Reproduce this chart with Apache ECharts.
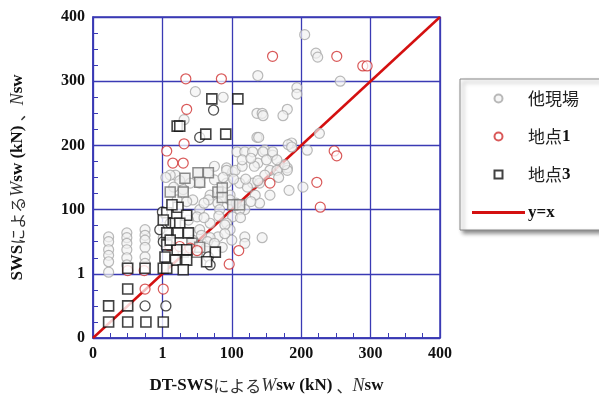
<!DOCTYPE html>
<html>
<head>
<meta charset="utf-8">
<script src="https://cdn.jsdelivr.net/npm/echarts@6/dist/echarts.min.js"></script>
<style>
  html, body { margin: 0; padding: 0; background: #fff; }
  #chart { width: 599px; height: 403px; }
</style>
</head>
<body>
<div id="chart"></div>
<script>
// tick labels as printed on the figure (equally spaced)
const tickLabels = ['0', '1', '100', '200', '300', '400']

// 他現場 (gray circles)
const otherSites = [
  [18,126],[18,120],[18,110],[18,103],[18,95],[18,82],
  [39,131],[39,125],[39,118],[39,110],[39,100],[39,91],
  [60,135],[60,128],[60,122],[60,113],[60,101],[60,93],
  [81,138],[81,125],
  [244,378],[257,355],[259,350],[118,307],[150,300],[105,272],[190,327],
  [189,280],[189,250],[235,312],[235,304],[195,280],[196,277],[224,285],
  [219,277],[191,250],[229,243],[198,234],[207,228],[190,218],[216,213],
  [224,212],[247,234],[226,184],[242,188],[285,320],[261,255],[175,126],
  [175,118],[195,125],[166,232],[95,203],[154,212],[161,207],
  [175,232],[184,232],[196,232],[207,232],[225,241],[229,238],
  [154,209],[164,209],[204,209],[212,209],[224,209],[198,203],
  [112,193],[123,193],[154,193],[169,193],[184,193],[192,193],[178,188],
  [158,178],[135,178],[204,178],[97,172],[115,172],[133,172],[158,172],
  [144,168],[192,168],[123,160],[146,160],[175,160],[120,151],[161,151],
  [135,143],[154,143],[123,135],[158,135],[144,126],[160,122],[115,122],
  [149,113],[135,125],[152,141],[169,160],[187,178],[221,216],
  [89,203],[100,196],
  [140,214],[172,214],[186,214],[172,222],[182,224],[200,222],[212,222],
  [140,197],[150,200],[162,198],[176,198],[190,196],[214,200],
  [108,170],[128,168],[165,168],[182,170],
  [110,147],[128,150],[145,152],[170,150],
  [125,128],[132,120],[152,130],[130,112],[140,118],
  [84,200],[93,188],[104,185]
]

// 地点1 (red circles)
const site1 = [
  [107,323],[148,323],[108,285],[105,242],[85,233],[92,218],[104,218],
  [207,351],[281,351],[311,339],[316,339],[278,233],[281,227],[204,193],
  [258,194],[262,163],[168,109],[157,92],[40,84],[59,84],[60,61],[81,61],
  [88,115],[100,114],[112,112],[120,109]
]

// 地点3 (black squares)
const site3 = [
  [137,298],[167,298],[97,264],[100,264],[130,254],[153,254],
  [18,20],[40,20],[61,20],[81,20],[18,40],[40,40],[40,61],[40,87],[60,87],[81,87],
  [98,163],[85,156],[108,153],[95,143],[100,143],[85,131],[98,131],[110,131],
  [85,116],[97,110],[108,110],[83,101],[95,97],[108,97],[85,87],[104,85],
  [141,107],[131,95],[91,166],[81,147],[89,122]
]

// dark circles and gray squares that are not in the legend
const darkCircles = [
  [139,284],[123,250],[60,40],[84,40],[80,157],[89,143],[81,120],[133,101],[135,91],[77,135]
]
const graySquares = [
  [106,199],[121,206],[133,206],[123,194],[89,182],[104,182],[144,182],
  [161,166],[169,166],[149,187],[149,175],[114,118],[104,107],[120,107],[123,113]
]

// y = x reference line
const diagLine = [[0, 0], [400, 400]]

const chart = echarts.init(document.getElementById('chart'))

const blue = '#3a3ab4'
const labelFont = { color: '#111', fontFamily: 'Liberation Serif', fontWeight: 'bold', fontSize: 16 }
const nameRich = {
  b: { fontFamily: 'Liberation Serif', fontWeight: 'bold', fontSize: 17, color: '#111' },
  j: { fontFamily: 'Noto Sans CJK JP', fontSize: 16, color: '#333' },
  i: { fontFamily: 'Liberation Serif', fontStyle: 'italic', fontSize: 18, color: '#333' }
}
const axisCommon = {
  type: 'value',
  min: 0,
  max: 400,
  interval: 80,
  nameLocation: 'middle',
  axisLine: { lineStyle: { color: blue, width: 1.5 } },
  axisTick: { show: true, inside: true, length: 5, lineStyle: { color: blue } },
  minorTick: { show: true, splitNumber: 4, length: 5, lineStyle: { color: blue } },
  splitLine: { show: true, lineStyle: { color: blue, width: 1.3 } },
  axisLabel: Object.assign({
    margin: 8,
    formatter: v => tickLabels[Math.round(v / 80)]
  }, labelFont)
}

chart.setOption({
  backgroundColor: '#fff',
  animation: false,
  grid: { left: 93, right: 159, top: 17, bottom: 65, show: true, borderColor: blue, borderWidth: 1.5 },
  legend: {
    orient: 'vertical',
    left: 460,
    top: 79,
    data: [
      { name: '他現場' },
      { name: '地点1' },
      { name: '地点3', icon: 'path://M0,0H10V10H0Z' },
      { name: 'y=x', icon: 'path://M0,0H53V3H0Z', itemStyle: { color: '#d41010' } }
    ],
    formatter: name => {
      if (name === 'y=x') return '{b|y=x}'
      const m = name.match(/^(\D+)(\d)$/)
      return m ? '{j|' + m[1] + '}{b|' + m[2] + '}' : '{j|' + name + '}'
    },
    itemWidth: 53,
    itemHeight: 8,
    itemGap: 21,
    padding: [11, 30, 9, 12],
    backgroundColor: '#fff',
    borderColor: '#888',
    borderWidth: 1,
    shadowColor: 'rgba(0,0,0,0.45)',
    shadowBlur: 4,
    shadowOffsetX: 3,
    shadowOffsetY: 3,
    textStyle: {
      padding: [0, 0, 0, -2],
      rich: {
        j: { fontFamily: 'Noto Sans CJK JP', fontSize: 17, color: '#222' },
        b: { fontFamily: 'Liberation Serif', fontWeight: 'bold', fontSize: 17, color: '#111' }
      }
    }
  },
  xAxis: Object.assign({}, axisCommon, {
    name: '{b|DT-SWS}{j|による}{i|W}{b|sw (kN) }{j|、}{i|N}{b|sw}',
    nameGap: 39,
    nameTextStyle: { rich: nameRich }
  }),
  yAxis: Object.assign({}, axisCommon, {
    name: '{b|SWS}{j|による}{i|W}{b|sw (kN) }{j|、}{i|N}{b|sw}',
    nameGap: 66,
    nameRotate: 90,
    nameTextStyle: { rich: nameRich }
  }),
  series: [
    {
      name: 'y=x',
      type: 'line',
      data: diagLine,
      symbol: 'none',
      lineStyle: { color: '#d41010', width: 2.5 },
      itemStyle: { color: '#d41010' },
      z: 1
    },
    {
      name: '他現場',
      type: 'scatter',
      data: otherSites,
      symbol: 'circle',
      symbolSize: 10,
      itemStyle: { color: 'rgba(242,242,242,0.85)', borderColor: '#a8a8a8', borderWidth: 1.2 }
    },
    {
      name: 'graySq',
      type: 'scatter',
      data: graySquares,
      symbol: 'rect',
      symbolSize: 10,
      itemStyle: { color: 'rgba(235,235,235,0.9)', borderColor: '#707070', borderWidth: 1.5 }
    },
    {
      name: '地点1',
      type: 'scatter',
      data: site1,
      symbol: 'circle',
      symbolSize: 10,
      itemStyle: { color: 'rgba(255,255,255,0.9)', borderColor: '#d03030', borderWidth: 1.2 }
    },
    {
      name: 'darkCircle',
      type: 'scatter',
      data: darkCircles,
      symbol: 'circle',
      symbolSize: 10,
      itemStyle: { color: '#fff', borderColor: '#222', borderWidth: 1.3 }
    },
    {
      name: '地点3',
      type: 'scatter',
      data: site3,
      symbol: 'rect',
      symbolSize: 10,
      itemStyle: { color: '#fff', borderColor: '#111', borderWidth: 1.6 }
    }
  ]
})
</script>
</body>
</html>
